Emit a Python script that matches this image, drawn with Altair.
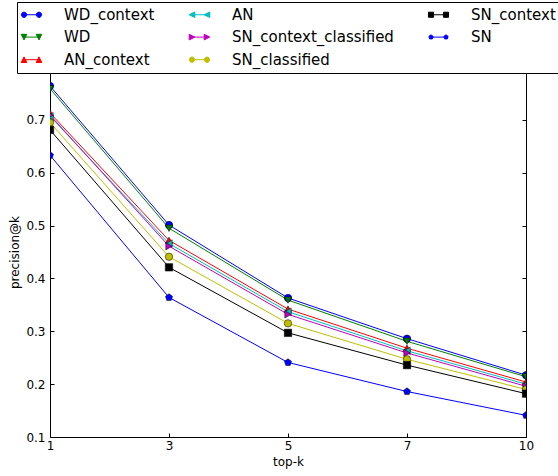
import altair as alt
import pandas as pd

# ---------------- data ----------------
k_values = [1, 3, 5, 7, 10]
series_names = ["WD_context", "WD", "AN_context", "AN",
                "SN_context_classified", "SN_classified", "SN_context", "SN"]

wd_context = [0.764, 0.501, 0.363, 0.286, 0.217]
wd = [0.759, 0.495, 0.359, 0.281, 0.214]
an_context = [0.713, 0.472, 0.342, 0.268, 0.204]
an = [0.707, 0.466, 0.337, 0.263, 0.200]
sn_context_classified = [0.709, 0.461, 0.332, 0.259, 0.196]
sn_classified = [0.695, 0.441, 0.315, 0.247, 0.190]
sn_context = [0.681, 0.421, 0.297, 0.236, 0.182]
sn = [0.633, 0.364, 0.241, 0.186, 0.141]

series_values = [wd_context, wd, an_context, an,
                 sn_context_classified, sn_classified, sn_context, sn]
series_colors = ["#0000ff", "#008000", "#ff0000", "#00bfbf",
                 "#bf00bf", "#bfbf00", "#000000", "#0000ff"]

y_ticks = [0.1, 0.2, 0.3, 0.4, 0.5, 0.6, 0.7, 0.8]

rows = []
for name, vals in zip(series_names, series_values):
    for kk, v in zip(k_values, vals):
        rows.append({"series": name, "k": kk, "value": v})
df = pd.DataFrame(rows)

# ---------------- styles ----------------
FONT = "DejaVu Sans"
pentagon = "M0,-1L0.951,-0.309L0.588,0.809L-0.588,0.809L-0.951,-0.309Z"
plot_shapes = ["circle", "triangle-down", "triangle-up", "triangle-left",
               "triangle-right", "circle", "square", pentagon]

SC = 0.75
L = 2.0 * SC   # half length of legend line


def f(v):
    return f"{v:.3f}"


def circle_at(cx, r):
    return (f"M{f(cx-r)},0A{f(r)},{f(r)} 0 1,0 {f(cx+r)},0"
            f"A{f(r)},{f(r)} 0 1,0 {f(cx-r)},0Z")


def tri_up(cx, r):
    return f"M{f(cx)},{f(-r)}L{f(cx+r)},{f(r)}L{f(cx-r)},{f(r)}Z"


def tri_down(cx, r):
    return f"M{f(cx)},{f(r)}L{f(cx+r)},{f(-r)}L{f(cx-r)},{f(-r)}Z"


def tri_left(cx, r):
    return f"M{f(cx-r)},0L{f(cx+r)},{f(-r)}L{f(cx+r)},{f(r)}Z"


def tri_right(cx, r):
    return f"M{f(cx+r)},0L{f(cx-r)},{f(-r)}L{f(cx-r)},{f(r)}Z"


def square_at(cx, r):
    return f"M{f(cx-r)},{f(-r)}H{f(cx+r)}V{f(r)}H{f(cx-r)}Z"


def penta_at(cx, r):
    pts = [(0, -1), (0.951, -0.309), (0.588, 0.809), (-0.588, 0.809), (-0.951, -0.309)]
    return "M" + "L".join(f"{f(cx + px*r)},{f(py*r)}" for px, py in pts) + "Z"


marker_fns = [(circle_at, 0.7), (tri_down, 0.75), (tri_up, 0.75), (tri_left, 0.75),
              (tri_right, 0.75), (circle_at, 0.7), (square_at, 0.68), (penta_at, 0.6)]
legend_paths = [f"M{f(-L)},0L{f(L)},0" + fn(-L, r * SC) + fn(L, r * SC)
                for fn, r in marker_fns]

color_scale = alt.Scale(domain=series_names, range=series_colors)

x_enc = alt.X("k:O", sort=k_values, scale=alt.Scale(type="point", padding=0))
y_enc = alt.Y("value:Q", scale=alt.Scale(domain=[0.1, 0.8], nice=False, zero=False))

axis_common = dict(domain=False, grid=False, tickSize=4, offset=-4, tickColor="black",
                   tickWidth=1, labelFont=FONT, labelFontSize=12, labelColor="black",
                   titleFont=FONT, titleFontSize=12, titleColor="black",
                   titleFontWeight="normal")

base = alt.Chart(df)

lines = base.mark_line(strokeWidth=1, clip=True).encode(
    x=x_enc.axis(alt.Axis(orient="bottom", title="top-k", labelAngle=0,
                          labelPadding=3, titlePadding=5, **axis_common)),
    y=y_enc.axis(alt.Axis(orient="left", title="precision@k", values=y_ticks,
                          format=".1f", labelPadding=5, titlePadding=4, **axis_common)),
    color=alt.Color("series:N", scale=color_scale, legend=None),
)

points = base.mark_point(filled=True, size=55, stroke="black", strokeWidth=0.5,
                         opacity=1, clip=True).encode(
    x=x_enc.axis(alt.Axis(orient="top", title=None, labels=False, **axis_common)),
    y=y_enc.axis(alt.Axis(orient="right", title=None, labels=False, values=y_ticks,
                          **axis_common)),
    fill=alt.Fill("series:N", scale=color_scale, legend=None),
    shape=alt.Shape("series:N", scale=alt.Scale(domain=series_names,
                                                range=plot_shapes), legend=None),
    detail="series:N",
)

legend_def = alt.Legend(
    title=None, orient="none", legendX=-33, legendY=-65, columns=3,
    columnPadding=32, rowPadding=6.6, symbolSize=100, symbolOffset=2,
    labelOffset=25, labelFont=FONT, labelFontSize=15, labelColor="black",
    labelLimit=0, padding=5, strokeColor="black", fillColor="white",
    symbolStrokeWidth=1, symbolOpacity=1, cornerRadius=0,
)

legend_layer = base.mark_point(filled=True, opacity=0, size=100).encode(
    x=x_enc.axis(None),
    y=y_enc.axis(None),
    fill=alt.Fill("series:N", scale=alt.Scale(domain=series_names, range=series_colors),
                  legend=legend_def),
    stroke=alt.Stroke("series:N", scale=alt.Scale(domain=series_names, range=series_colors),
                      legend=legend_def),
    shape=alt.Shape("series:N", scale=alt.Scale(domain=series_names, range=legend_paths),
                    legend=legend_def),
)

chart = alt.layer(lines, points, legend_layer).resolve_scale(
    shape="independent", fill="independent", stroke="independent"
).resolve_axis(
    x="independent", y="independent"
).properties(
    width=476, height=370,
    autosize=alt.AutoSizeParams(type="none"),
    padding={"left": 50, "top": 67, "right": 32, "bottom": 39},
    background="white",
).configure_view(stroke="black", strokeWidth=1)

chart.save("out.html", embed_options={"renderer": "svg", "actions": False})
